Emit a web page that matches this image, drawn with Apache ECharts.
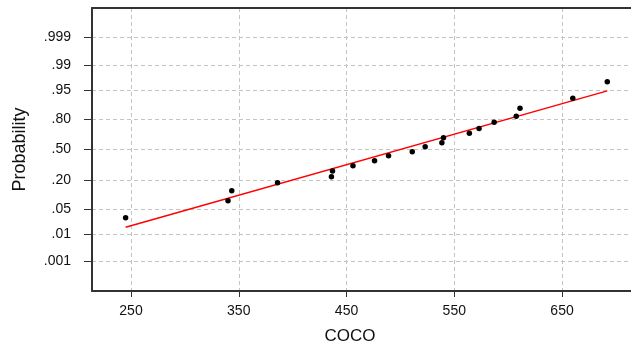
<!DOCTYPE html>
<html>
<head>
<meta charset="utf-8">
<script src="https://cdn.jsdelivr.net/npm/echarts@6/dist/echarts.min.js"></script>
<style>
html, body { margin: 0; padding: 0; background: #fff; }
#chart { width: 631px; height: 350px; }
</style>
</head>
<body>
<div id="chart"></div>
<script>
// COCO observations (sorted) and their cumulative plotting probabilities
const cocoValues = [245, 340, 343.5, 386, 436, 437, 456, 476, 489, 511, 523, 538.5, 540, 564, 573, 587, 607.5, 611, 660, 692];
const cocoProbs = [0.030, 0.079, 0.128, 0.180, 0.227, 0.276, 0.327, 0.378, 0.431, 0.475, 0.529, 0.573, 0.626, 0.673, 0.718, 0.773, 0.820, 0.872, 0.921, 0.969];

// Fitted normal reference line (end points)
const fitValues = [245, 692];
const fitProbs = [0.016, 0.947];

// Axis ticks
const probTicks = [0.001, 0.01, 0.05, 0.20, 0.50, 0.80, 0.95, 0.99, 0.999];
const probTickLabels = ['.001', '.01', '.05', '.20', '.50', '.80', '.95', '.99', '.999'];
const xTicks = [250, 350, 450, 550, 650];

// Inverse of the standard normal CDF (Acklam's approximation), used as the probability scale
function probit(p) {
  const a = [-3.969683028665376e+01, 2.209460984245205e+02, -2.759285104469687e+02, 1.383577518672690e+02, -3.066479806614716e+01, 2.506628277459239e+00];
  const b = [-5.447609879822406e+01, 1.615858368580409e+02, -1.556989798598866e+02, 6.680131188771972e+01, -1.328068155288572e+01];
  const c = [-7.784894002430293e-03, -3.223964580411365e-01, -2.400758277161838e+00, -2.549732539343734e+00, 4.374664141464968e+00, 2.938163982698783e+00];
  const d = [7.784695709041462e-03, 3.224671290700398e-01, 2.445134137142996e+00, 3.754408661907416e+00];
  const pl = 0.02425, ph = 1 - pl;
  let q, r;
  if (p < pl) {
    q = Math.sqrt(-2 * Math.log(p));
    return (((((c[0]*q+c[1])*q+c[2])*q+c[3])*q+c[4])*q+c[5]) / ((((d[0]*q+d[1])*q+d[2])*q+d[3])*q+1);
  }
  if (p <= ph) {
    q = p - 0.5; r = q * q;
    return (((((a[0]*r+a[1])*r+a[2])*r+a[3])*r+a[4])*r+a[5])*q / (((((b[0]*r+b[1])*r+b[2])*r+b[3])*r+b[4])*r+1);
  }
  q = Math.sqrt(-2 * Math.log(1 - p));
  return -(((((c[0]*q+c[1])*q+c[2])*q+c[3])*q+c[4])*q+c[5]) / ((((d[0]*q+d[1])*q+d[2])*q+d[3])*q+1);
}

const probTickZ = probTicks.map(probit);
const font = 'Liberation Sans, Arial, sans-serif';
const gridLine = { show: true, lineStyle: { color: '#c4c4c4', type: [4, 3], width: 1 } };

const chart = echarts.init(document.getElementById('chart'), null, { renderer: 'canvas' });
chart.setOption({
  animation: false,
  backgroundColor: '#fff',
  grid: { left: 92, top: 8, right: -2, bottom: 58, containLabel: false },
  xAxis: [{
    type: 'value',
    min: 213.8,
    max: 714,
    name: 'COCO',
    nameLocation: 'middle',
    nameGap: 37,
    nameTextStyle: { fontFamily: font, fontSize: 17, color: '#111', padding: [0, 23, 0, 0] },
    axisLine: { show: true, onZero: false, lineStyle: { color: '#333', width: 2 } },
    axisTick: { show: true, length: 6, customValues: xTicks, lineStyle: { color: '#333', width: 1 } },
    axisLabel: { customValues: xTicks, margin: 13, fontFamily: font, fontSize: 14, color: '#111' },
    splitLine: gridLine
  }, {
    type: 'value',
    position: 'top',
    min: 213.8,
    max: 714,
    axisLine: { show: true, onZero: false, lineStyle: { color: '#333', width: 2 } },
    axisTick: { show: false },
    axisLabel: { show: false },
    splitLine: { show: false }
  }],
  yAxis: {
    type: 'value',
    min: -3.9,
    max: 3.9,
    name: 'Probability',
    nameLocation: 'middle',
    nameGap: 63,
    nameTextStyle: { fontFamily: font, fontSize: 18, color: '#111' },
    axisLine: { show: true, onZero: false, lineStyle: { color: '#333', width: 2 } },
    axisTick: { show: true, length: 8, customValues: probTickZ, lineStyle: { color: '#333', width: 1 } },
    axisLabel: {
      customValues: probTickZ,
      margin: 21,
      fontFamily: font,
      fontSize: 14,
      color: '#111',
      formatter: function (v) {
        let best = 0;
        for (let i = 1; i < probTickZ.length; i++) {
          if (Math.abs(probTickZ[i] - v) < Math.abs(probTickZ[best] - v)) best = i;
        }
        return probTickLabels[best];
      }
    },
    splitLine: gridLine
  },
  series: [{
    type: 'line',
    xAxisIndex: 0,
    data: fitValues.map((x, i) => [x, probit(fitProbs[i])]),
    symbol: 'none',
    lineStyle: { color: '#ff0000', width: 1.5 },
    z: 2
  }, {
    type: 'scatter',
    xAxisIndex: 0,
    data: cocoValues.map((x, i) => [x, probit(cocoProbs[i])]),
    symbol: 'circle',
    symbolSize: 5.5,
    itemStyle: { color: '#000', opacity: 1 },
    z: 3
  }]
});
</script>
</body>
</html>
